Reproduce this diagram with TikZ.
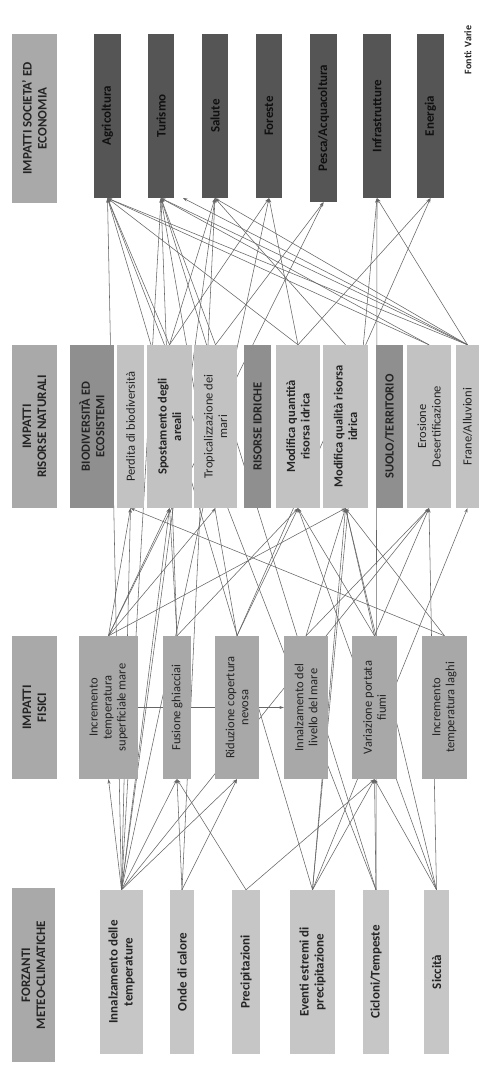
\documentclass[tikz,border=0pt]{standalone}
\usepackage{fontspec}
\setmainfont{Carlito}
\usetikzlibrary{arrows.meta,backgrounds}
\definecolor{hdrc}{HTML}{A9A9A9}
\definecolor{r1c}{HTML}{C6C6C6}
\definecolor{r2c}{HTML}{A8A8A8}
\definecolor{r3c}{HTML}{C2C2C2}
\definecolor{catc}{HTML}{8F8F8F}
\definecolor{r4c}{HTML}{555555}
\definecolor{r4t}{HTML}{101010}
\definecolor{txt}{HTML}{242424}
\definecolor{lnc}{HTML}{666666}
\newcommand{\bxx}[7]{\node[#6, minimum width={(#5-#4)*1pt}, minimum height={(#3-#2)*1pt}] (#1) at ({(#2+#3)/2},{(#4+#5)/2}) {#7};}
\tikzset{
 box/.style={rotate=90, draw=none, inner sep=0pt, align=center, text=txt},
 hdr/.style={box, fill=hdrc, font=\bfseries\fontsize{13}{15}\selectfont},
 r1/.style={box, fill=r1c, font=\bfseries\fontsize{13}{15}\selectfont},
 r2/.style={box, fill=r2c, font=\fontsize{12.5}{14}\selectfont},
 r3/.style={box, fill=r3c, font=\fontsize{12.5}{14.5}\selectfont},
 r3b/.style={box, fill=r3c, font=\bfseries\fontsize{12.5}{14.5}\selectfont},
 cat/.style={box, fill=catc, font=\bfseries\fontsize{12.5}{14.5}\selectfont},
 r4/.style={box, fill=r4c, text=r4t, font=\bfseries\fontsize{13}{15}\selectfont},
 link/.style={draw=lnc, line width=0.55pt, -{Stealth[length=4.5pt,width=3pt]}},
}
\begin{document}
\begin{tikzpicture}[x=1pt,y=-1pt]
\useasboundingbox (0,0) rectangle (479,1068);
% Row 4
\bxx{H4}{12}{57}{34}{203}{hdr}{IMPATTI SOCIETA' ED\\ECONOMIA}
\bxx{AGR}{94}{121}{34}{198}{r4}{Agricoltura}
\bxx{TUR}{148}{174}{34}{198}{r4}{Turismo}
\bxx{SAL}{202}{228}{34}{198}{r4}{Salute}
\bxx{FOR}{256}{282}{34}{198}{r4}{Foreste}
\bxx{PES}{310}{337}{34}{202}{r4}{Pesca/Acquacoltura}
\bxx{INF}{363}{391}{34}{198}{r4}{Infrastrutture}
\bxx{ENE}{417}{444}{34}{198}{r4}{Energia}
\node[rotate=90, font=\bfseries\fontsize{10}{11}\selectfont, text=txt] (FON) at (468,50) {Fonti: Varie};
% Row 3
\bxx{H3}{12}{57}{345}{508}{hdr}{IMPATTI\\RISORSE NATURALI}
\bxx{BIO}{70}{114}{345}{508}{cat}{BIODIVERSITÀ ED\\ECOSISTEMI}
\bxx{PB}{117}{144}{345}{508}{r3}{Perdita di biodiversità}
\bxx{SA}{147}{192}{345}{508}{r3b}{Spostamento degli\\areali}
\bxx{TM}{194}{237}{345}{508}{r3}{Tropicalizzazione dei\\mari}
\bxx{RI}{244}{271}{345}{508}{cat}{RISORSE IDRICHE}
\bxx{MQN}{276}{320}{345}{508}{r3b}{Modifica quantità\\risorsa idrica}
\bxx{MQL}{323}{368}{345}{508}{r3b}{Modifica qualità risorsa\\idrica}
\bxx{ST}{376}{403}{345}{508}{cat}{SUOLO/TERRITORIO}
\bxx{ED}{407}{451}{345}{508}{r3}{Erosione\\Desertificazione}
\bxx{FA}{456}{479}{345}{508}{r3}{Frane/Alluvioni}
% Row 2
\bxx{H2}{12}{57}{636}{779}{hdr}{IMPATTI\\FISICI}
\bxx{ITM}{79}{138}{636}{779}{r2}{Incremento\\temperatura\\superficiale mare}
\bxx{FG}{163}{191}{636}{779}{r2}{Fusione ghiacciai}
\bxx{RN}{215}{259}{636}{779}{r2}{Riduzione copertura\\nevosa}
\bxx{ILM}{284}{328}{636}{779}{r2}{Innalzamento del\\livello del mare}
\bxx{VP}{352}{397}{636}{779}{r2}{Variazione portata\\fiumi}
\bxx{TL}{422}{467}{636}{779}{r2}{Incremento\\temperatura laghi}
% Row 1
\bxx{H1}{12}{55}{888}{1062}{hdr}{FORZANTI\\METEO-CLIMATICHE}
\bxx{IT}{100}{143}{890}{1054}{r1}{Innalzamento delle\\temperature}
\bxx{OC}{170}{194}{890}{1054}{r1}{Onde di calore}
\bxx{PR}{232}{260}{890}{1054}{r1}{Precipitazioni}
\bxx{EE}{290}{335}{890}{1054}{r1}{Eventi estremi di\\precipitazione}
\bxx{CT}{363}{389}{890}{1054}{r1}{Cicloni/Tempeste}
\bxx{SI}{424}{449}{890}{1054}{r1}{Siccità}
\coordinate (dng) at (183,198);
\begin{pgfonlayer}{background}
\fill[white] (0,0) rectangle (479,1068);
\foreach \a/\b in {IT/ITM, IT/FG, IT/RN, OC/FG, OC/RN, PR/FG, PR/VP, EE/VP, CT/VP, SI/VP,
  IT/PB, IT/SA, IT/ED, SI/ED, SI/MQL, SI/MQN, EE/MQL, EE/FA,
  IT/AGR, IT/TUR, IT/SAL, IT/FOR, OC/SAL, CT/AGR, CT/TUR, CT/INF, EE/AGR, EE/INF,
  ITM/PB, ITM/SA, ITM/TM, ITM/MQL, FG/MQN, FG/SA, RN/MQN, ILM/MQL, ILM/ED, VP/MQN, VP/MQL, VP/ED, TL/PB, TL/MQL,
  ITM/PES, FG/TUR, RN/TUR, RN/ENE,
  SA/AGR, SA/SAL, SA/FOR, TM/PES, TM/TUR, MQN/AGR, MQN/ENE, MQN/FOR, MQL/SAL, ED/AGR, ED/TUR, FA/AGR, FA/TUR, FA/SAL, FA/INF}
  {\draw[link] (\a.east) -- (\b.west);}
\draw[link] (FA.east) -- (dng);
\draw[link] (ITM.south) -- (ILM.north);
\end{pgfonlayer}
\end{tikzpicture}
\end{document}
